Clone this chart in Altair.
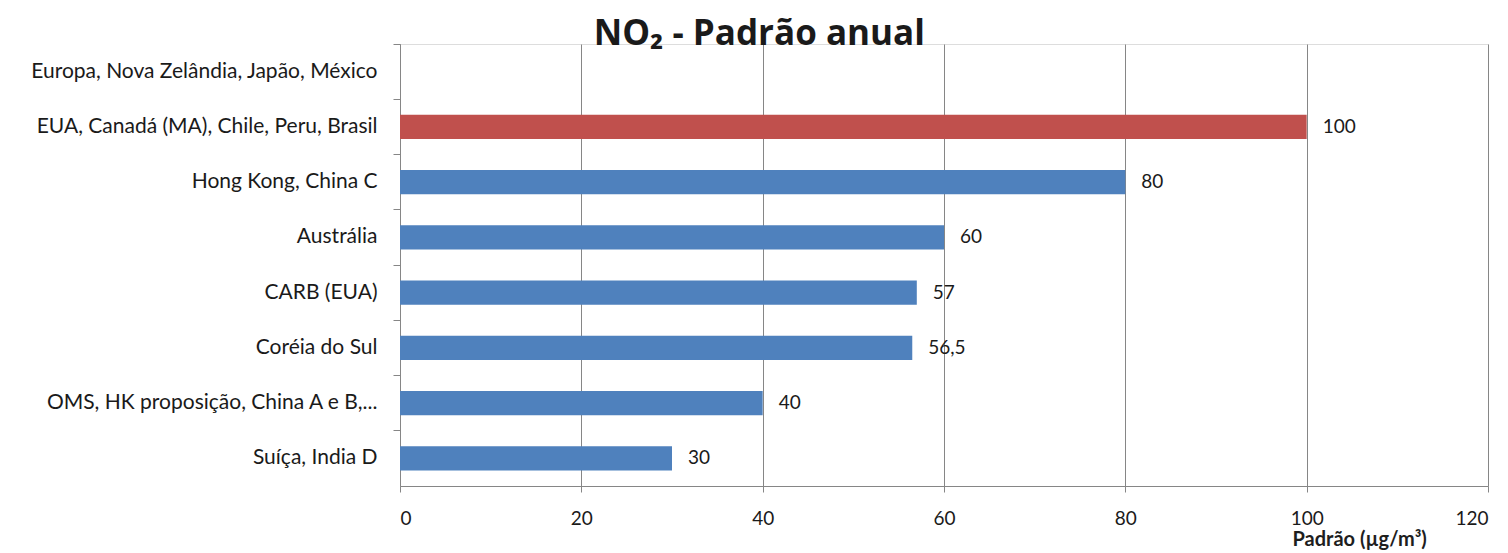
import altair as alt
import pandas as pd

categories = [
    "Europa, Nova Zelândia, Japão, México",
    "EUA, Canadá (MA), Chile, Peru, Brasil",
    "Hong Kong, China C",
    "Austrália",
    "CARB (EUA)",
    "Coréia do Sul",
    "OMS, HK proposição, China A e B,...",
    "Suíça, India D",
]
values = [None, 100, 80, 60, 57, 56.5, 40, 30]
value_labels = ["", "100", "80", "60", "57", "56,5", "40", "30"]
highlight = [False, True, False, False, False, False, False, False]
x_ticks = [0, 20, 40, 60, 80, 100, 120]

df = pd.DataFrame({
    "cat": categories,
    "val": values,
    "lab": value_labels,
    "hl": highlight,
})

FONT = "Lato"
W, H = 1088, 442

y_enc = alt.Y(
    "cat:N",
    sort=categories,
    scale=alt.Scale(paddingInner=0, paddingOuter=0),
    axis=alt.Axis(
        title=None,
        bandPosition=0,
        labelFont=FONT,
        labelFontSize=21,
        labelColor="#1a1a1a",
        labelPadding=16,
        labelLimit=420,
        tickColor="#868686",
        tickSize=7,
        domainColor="#868686",
        grid=False,
    ),
)

x_enc = alt.X(
    "val:Q",
    scale=alt.Scale(domain=[0, 120], nice=False),
    axis=alt.Axis(
        values=x_ticks,
        title="Padrão (µg/m³)",
        titleFont=FONT,
        titleFontSize=20,
        titleFontWeight="bold",
        titleColor="#1e1e1e",
        titleAlign="left",
        titleBaseline="top",
        titleX=892,
        titleY=43,
        labelFont=FONT,
        labelFontSize=19,
        labelColor="#1a1a1a",
        labelPadding=17,
        tickColor="#868686",
        tickSize=6,
        domainColor="#868686",
        grid=True,
        gridColor="#868686",
        gridWidth=1,
    ),
)

bars = alt.Chart(df).mark_bar(height={"band": 0.44}).encode(
    x=x_enc,
    y=y_enc,
    color=alt.Color(
        "hl:N",
        scale=alt.Scale(domain=[False, True], range=["#4F81BD", "#C0504D"]),
        legend=None,
    ),
)

texts = alt.Chart(df).mark_text(
    align="left", baseline="middle", dx=16, font=FONT, fontSize=19, color="#1a1a1a"
).encode(
    x=alt.X("val:Q"),
    y=alt.Y("cat:N", sort=categories),
    text="lab:N",
)

chart = (
    alt.layer(bars, texts)
    .properties(
        width=W,
        height=H,
        title=alt.TitleParams(
            "NO₂ - Padrão anual",
            font="Open Sans",
            fontSize=35,
            fontWeight="bold",
            color="#1a1a1a",
            anchor="middle",
            frame="bounds",
            baseline="alphabetic",
            offset=-36,
        ),
        autosize=alt.AutoSizeParams(type="none"),
        padding={"left": 400, "top": 44, "right": 20, "bottom": 67},
    )
    .configure_view(stroke=None)
    .configure(background="white")
)

chart.save("out.html", embed_options={"renderer": "svg", "actions": False})
